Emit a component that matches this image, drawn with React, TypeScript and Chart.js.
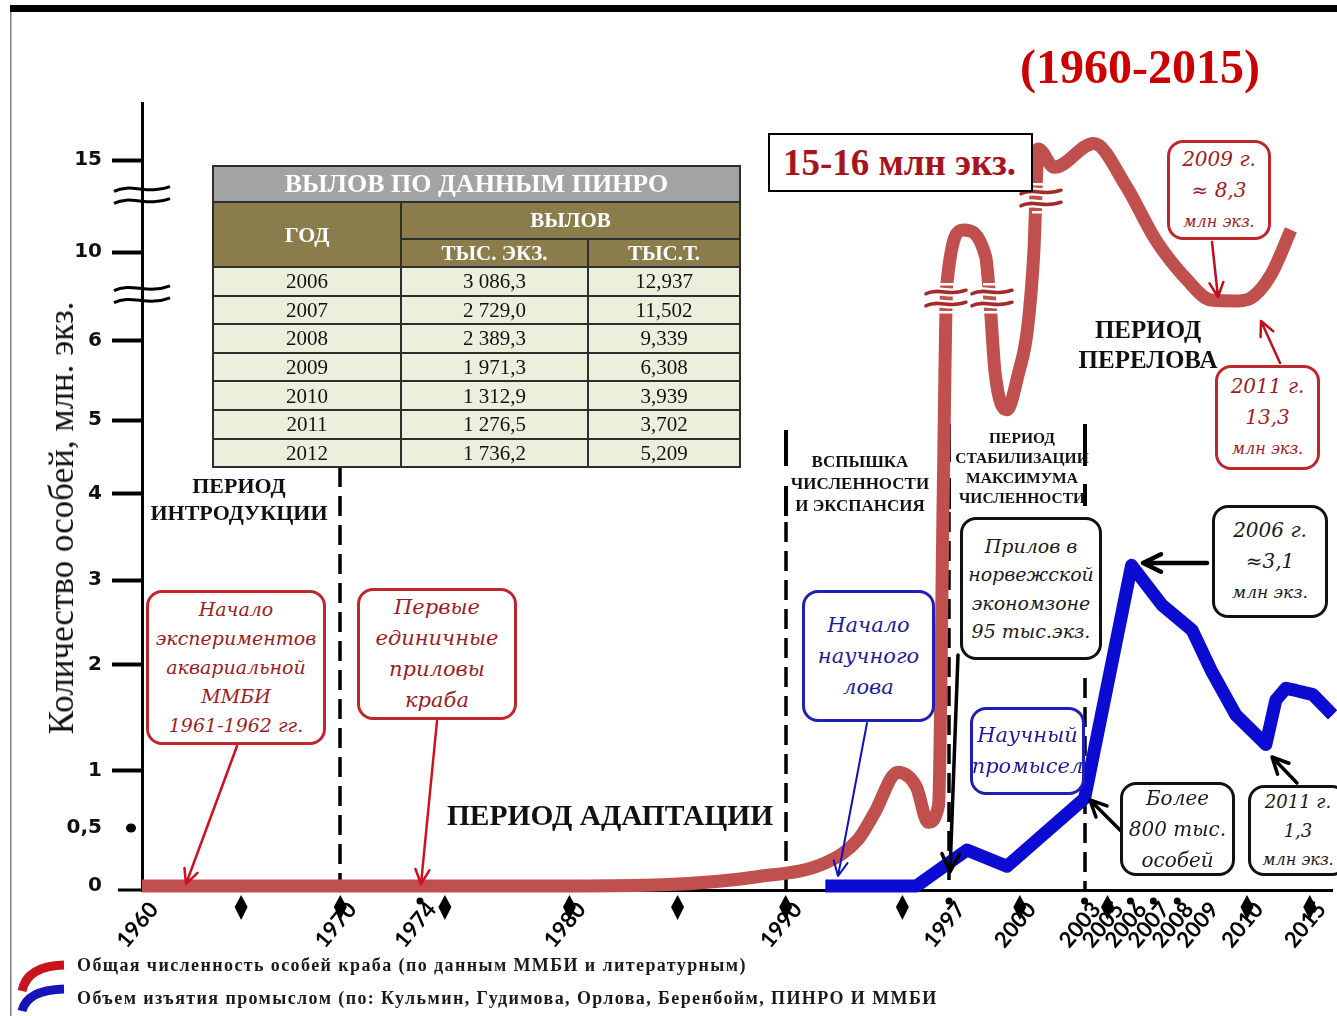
import React, { useEffect, useRef } from 'react';
import { Chart, LinearScale, registerables } from 'chart.js';

// ------------------------------------------------------------------ data
const seriesLabels = [
  'Общая численность особей краба (по данным ММБИ и литературным)',
  'Объем изъятия промыслом (по: Кульмин, Гудимова, Орлова, Беренбойм, ПИНРО И ММБИ',
];

// total number of crabs, million individuals
const redYears = [1960, 1970, 1980, 1984.3, 1988.7, 1991.7, 1993.1, 1993.8, 1994.8, 1995.6, 1996.1, 1996.55, 1996.75, 1996.9, 1997.6, 1998.55, 1998.75, 1998.95, 1999.45, 1999.95, 2000.35, 2000.65, 2000.85, 2001.6, 2003.8, 2005.8, 2007.1, 2008.4, 2009.2, 2009.75, 2010.3, 2011.9, 2013.5];
const redValues = [0, 0, 0, 0.01, 0.08, 0.2, 0.4, 0.63, 0.99, 0.86, 0.55, 0.7, 4.0, 8.5, 11.2, 9.8, 7.5, 5.6, 5.13, 5.6, 6.5, 10.0, 15.6, 14.6, 15.9, 13.6, 10.65, 8.74, 7.84, 7.8, 7.93, 8.97, 11.2];

// removal by fishery, million individuals (blue curve)
const blueYears = [1991.7, 1995.6, 1997.76, 1999.45, 2003.0, 2006.05, 2007.35, 2008.6, 2009.2, 2009.75, 2011.5, 2012.3, 2013.1, 2013.9, 2015.2, 2016.5];
const blueValues = [0, 0, 0.31, 0.17, 0.76, 3.17, 2.71, 2.41, 1.95, 1.53, 1.25, 1.67, 1.78, 1.76, 1.72, 1.53];

const xTickYears = [1960, 1970, 1974, 1980, 1990, 1997, 2000, 2003, 2005, 2006, 2007, 2008, 2009, 2010, 2015];
const yTickValues = [0, 0.5, 1, 2, 3, 4, 5, 6, 10, 15];
const diamondYears = [1965, 1970, 1975, 1980, 1985, 1990, 1995, 2000, 2005, 2010, 2015];
const dotYears = [1974, 1997, 2003, 2006, 2007, 2008];
const periodBoundaryYears = [1970, 1990, 1997, 2003];
const yBreakValues = [13.1, 8.1];

// table "ВЫЛОВ ПО ДАННЫМ ПИНРО"
const tableYears = ['2006', '2007', '2008', '2009', '2010', '2011', '2012'];
const tableThousandInd = ['3 086,3', '2 729,0', '2 389,3', '1 971,3', '1 312,9', '1 276,5', '1 736,2'];
const tableThousandTons = ['12,937', '11,502', '9,339', '6,308', '3,939', '3,702', '5,209'];

// ------------------------------------------------------------------ hand-drawn (non-uniform) axes
const AXIS_KNOTS: Record<string, { values: number[]; fracs: number[] }> = {
  x: {
    values: [...xTickYears, 2016.5],
    fracs: [0, 0.16653, 0.23347, 0.359, 0.54059, 0.67782, 0.73724, 0.79163, 0.81088, 0.83013, 0.84937, 0.86946, 0.89038, 0.92803, 0.98075, 1],
  },
  y: {
    values: [...yTickValues, 18],
    fracs: [0.00508, 0.07878, 0.15121, 0.2859, 0.3939, 0.50318, 0.5972, 0.69759, 0.81067, 0.92757, 0.99746],
  },
};

function interp(xs: number[], ys: number[], v: number) {
  const n = xs.length;
  let i = 0;
  if (v >= xs[n - 1]) i = n - 2;
  else if (v > xs[0]) {
    while (i < n - 2 && v > xs[i + 1]) i++;
  }
  const t = (v - xs[i]) / (xs[i + 1] - xs[i]);
  return ys[i] + t * (ys[i + 1] - ys[i]);
}

class PiecewiseScale extends LinearScale {
  static id = 'piecewise';
  static defaults = {};
  getPixelForValue(value: number) {
    const k = AXIS_KNOTS[(this as any).id];
    if (value === null || value === undefined || isNaN(value)) return NaN;
    return this.getPixelForDecimal(interp(k.values, k.fracs, value));
  }
  getValueForPixel(pixel: number) {
    const k = AXIS_KNOTS[(this as any).id];
    return interp(k.fracs, k.values, this.getDecimalForPixel(pixel));
  }
}

Chart.register(...registerables, PiecewiseScale as any);

// ------------------------------------------------------------------ styles
const RED = '#c0504d';
const BLUE = '#0b0bd2';
const SERIF = '"Liberation Serif", "Times New Roman", serif';
const NOTE_FONT = '"DejaVu Serif", serif';

const periodLineLayout = [
  { solid: [] as number[][], dashFrom: 467 },
  { solid: [[430, 466], [486, 516]], dashFrom: 522 },
  { solid: [[424, 462], [478, 509]], dashFrom: 512 },
  { solid: [[424, 466], [484, 506]], dashFrom: 678 },
];

function arrow(ctx: CanvasRenderingContext2D, x1: number, y1: number, x2: number, y2: number, color: string, w: number, head: number) {
  const a = Math.atan2(y2 - y1, x2 - x1);
  ctx.save();
  ctx.strokeStyle = color;
  ctx.lineWidth = w;
  ctx.lineCap = 'round';
  ctx.lineJoin = 'round';
  ctx.beginPath();
  ctx.moveTo(x1, y1);
  ctx.lineTo(x2, y2);
  ctx.moveTo(x2 - head * Math.cos(a - 0.45), y2 - head * Math.sin(a - 0.45));
  ctx.lineTo(x2, y2);
  ctx.lineTo(x2 - head * Math.cos(a + 0.45), y2 - head * Math.sin(a + 0.45));
  ctx.stroke();
  ctx.restore();
}

function wave(ctx: CanvasRenderingContext2D, x1: number, x2: number, y: number, amp: number) {
  const d = x2 - x1;
  ctx.beginPath();
  ctx.moveTo(x1, y + amp * 0.6);
  ctx.bezierCurveTo(x1 + d * 0.3, y - amp * 1.6, x1 + d * 0.6, y + amp * 1.6, x2, y - amp * 0.6);
  ctx.stroke();
}

const decorPlugin = {
  id: 'decor',
  beforeDraw(chart: any) {
    const { ctx } = chart;
    ctx.save();
    ctx.fillStyle = '#fff';
    ctx.fillRect(0, 0, chart.width, chart.height);
    ctx.restore();
  },
  beforeDatasetsDraw(chart: any) {
    const { ctx } = chart;
    const xs = chart.scales.x;
    ctx.save();
    ctx.strokeStyle = '#000';
    periodBoundaryYears.forEach((yr, i) => {
      const x = Math.round(xs.getPixelForValue(yr));
      const lay = periodLineLayout[i];
      ctx.lineWidth = 4;
      ctx.setLineDash([]);
      lay.solid.forEach(([a, b]) => {
        ctx.beginPath();
        ctx.moveTo(x, a);
        ctx.lineTo(x, b);
        ctx.stroke();
      });
      ctx.lineWidth = 3.5;
      ctx.setLineDash([20, 9]);
      ctx.beginPath();
      ctx.moveTo(x, lay.dashFrom);
      ctx.lineTo(x, 889);
      ctx.stroke();
    });
    ctx.restore();
  },
  afterDatasetsDraw(chart: any) {
    const { ctx } = chart;
    const xs = chart.scales.x;
    const ys = chart.scales.y;
    ctx.save();

    // frame
    ctx.fillStyle = '#000';
    ctx.fillRect(10, 5, 1327, 7);
    ctx.fillStyle = '#808080';
    ctx.fillRect(10, 12, 1.5, 1004);

    // axis extension to the left
    ctx.fillStyle = '#000';
    ctx.fillRect(118, 888.5, 24, 3);

    // diamonds and dots under the x axis
    diamondYears.forEach((yr) => {
      const x = xs.getPixelForValue(yr);
      ctx.beginPath();
      ctx.moveTo(x, 895);
      ctx.lineTo(x + 6.5, 907);
      ctx.lineTo(x, 920);
      ctx.lineTo(x - 6.5, 907);
      ctx.closePath();
      ctx.fill();
    });
    dotYears.forEach((yr) => {
      ctx.beginPath();
      ctx.arc(xs.getPixelForValue(yr), 901, 3.5, 0, Math.PI * 2);
      ctx.fill();
    });

    // 0,5 tick is a dot
    ctx.beginPath();
    ctx.ellipse(131, ys.getPixelForValue(0.5), 5, 4.5, 0, 0, Math.PI * 2);
    ctx.fill();

    // y-axis break marks
    ctx.strokeStyle = '#000';
    ctx.lineWidth = 3;
    yBreakValues.forEach((v) => {
      const y = ys.getPixelForValue(v);
      wave(ctx, 114, 170, y - 6, 4);
      wave(ctx, 114, 170, y + 6, 4);
    });

    // break marks on the red curve
    const breaks = [
      [946, 298],
      [992, 298],
      [1041, 198],
    ];
    breaks.forEach(([x, y]) => {
      ctx.fillStyle = '#fff';
      ctx.fillRect(x - 9, y - 15, 18, 2.5);
      ctx.fillRect(x - 9, y + 13, 18, 2.5);
      ctx.lineCap = 'round';
      ctx.strokeStyle = '#fff';
      ctx.lineWidth = 8;
      wave(ctx, x - 20, x + 20, y - 6, 3);
      wave(ctx, x - 20, x + 20, y + 6, 3);
      ctx.strokeStyle = '#a32b2b';
      ctx.lineWidth = 3.5;
      wave(ctx, x - 20, x + 20, y - 6, 3);
      wave(ctx, x - 20, x + 20, y + 6, 3);
    });

    // annotation arrows
    arrow(ctx, 237, 746, 186, 884, '#d01020', 2.5, 16);
    arrow(ctx, 437, 721, 421, 884, '#d01020', 2.5, 16);
    arrow(ctx, 867, 723, 838, 876, '#1010c0', 2, 16);
    arrow(ctx, 958, 655, 950, 872, '#000', 3.5, 20);
    arrow(ctx, 1207, 563, 1143, 563, '#000', 4.5, 20);
    arrow(ctx, 1122, 832, 1090, 800, '#000', 3.5, 18);
    arrow(ctx, 1297, 783, 1272, 757, '#000', 3.5, 18);
    arrow(ctx, 1212, 242, 1218, 297, '#c01020', 2.5, 16);
    arrow(ctx, 1280, 363, 1261, 321, '#c01020', 2.5, 16);

    // legend swooshes
    ctx.lineCap = 'butt';
    ctx.lineWidth = 9;
    ctx.strokeStyle = '#c8141c';
    ctx.beginPath();
    ctx.moveTo(22, 991);
    ctx.quadraticCurveTo(27, 966, 64, 965);
    ctx.stroke();
    ctx.strokeStyle = '#1414b8';
    ctx.beginPath();
    ctx.moveTo(22, 1011);
    ctx.quadraticCurveTo(27, 990, 64, 989);
    ctx.stroke();

    ctx.restore();
  },
};

// ------------------------------------------------------------------ annotation boxes
type Note = { l: number; t: number; w: number; h: number; theme: 'red' | 'blue' | 'black'; fs: number; lh: number; lines: (string | [string, number])[] };
const THEMES = {
  red: { border: '#c0272d', text: '#9b1c24' },
  blue: { border: '#1f1fb5', text: '#1c1c9a' },
  black: { border: '#111', text: '#1a1a1a' },
};
const notes: Note[] = [
  { l: 146, t: 590, w: 180, h: 155, theme: 'red', fs: 19, lh: 29, lines: ['Начало', 'экспериментов', 'аквариальной', 'ММБИ', '1961-1962 гг.'] },
  { l: 357, t: 588, w: 160, h: 132, theme: 'red', fs: 21, lh: 31, lines: ['Первые', 'единичные', 'приловы', 'краба'] },
  { l: 1167, t: 140, w: 104, h: 100, theme: 'red', fs: 20, lh: 31, lines: ['2009 г.', '≈ 8,3', ['млн экз.', 16]] },
  { l: 1215, t: 365, w: 105, h: 105, theme: 'red', fs: 20, lh: 31, lines: ['2011 г.', '13,3', ['млн экз.', 16]] },
  { l: 802, t: 590, w: 133, h: 132, theme: 'blue', fs: 21, lh: 31, lines: ['Начало', 'научного', 'лова'] },
  { l: 970, t: 707, w: 115, h: 88, theme: 'blue', fs: 21, lh: 31, lines: ['Научный', 'промысел'] },
  { l: 960, t: 517, w: 142, h: 143, theme: 'black', fs: 19, lh: 28.5, lines: ['Прилов в', 'норвежской', 'экономзоне', '95 тыс.экз.'] },
  { l: 1212, t: 505, w: 116, h: 113, theme: 'black', fs: 20, lh: 31, lines: ['2006 г.', '≈3,1', ['млн экз.', 17]] },
  { l: 1120, t: 782, w: 115, h: 94, theme: 'black', fs: 20, lh: 31, lines: ['Более', '800 тыс.', 'особей'] },
  { l: 1248, t: 785, w: 100, h: 91, theme: 'black', fs: 18, lh: 29, lines: ['2011 г.', '1,3', ['млн экз.', 16]] },
];

type Label = { cx: number; y: number; fs: number; lh: number; lines: string[] };
const periodLabels: Label[] = [
  { cx: 239, y: 485, fs: 22, lh: 27, lines: ['ПЕРИОД', 'ИНТРОДУКЦИИ'] },
  { cx: 610, y: 815, fs: 29.5, lh: 34, lines: ['ПЕРИОД АДАПТАЦИИ'] },
  { cx: 860, y: 462, fs: 17, lh: 22, lines: ['ВСПЫШКА', 'ЧИСЛЕННОСТИ', 'И ЭКСПАНСИЯ'] },
  { cx: 1022, y: 438, fs: 15.5, lh: 20, lines: ['ПЕРИОД', 'СТАБИЛИЗАЦИИ', 'МАКСИМУМА', 'ЧИСЛЕННОСТИ'] },
  { cx: 1148, y: 330, fs: 25, lh: 30, lines: ['ПЕРИОД', 'ПЕРЕЛОВА'] },
];

function NoteBox({ n }: { n: Note }) {
  const th = THEMES[n.theme];
  return (
    <div
      style={{
        position: 'absolute', left: n.l, top: n.t, width: n.w, height: n.h, boxSizing: 'border-box',
        border: `3px solid ${th.border}`, borderRadius: 16, background: '#fff',
        display: 'flex', flexDirection: 'column', justifyContent: 'center', alignItems: 'center',
        fontFamily: NOTE_FONT, fontStyle: 'italic', color: th.text, whiteSpace: 'nowrap', textAlign: 'center',
        fontWeight: 300,
      }}
    >
      {n.lines.map((ln, i) => {
        const txt = Array.isArray(ln) ? ln[0] : ln;
        const fs = Array.isArray(ln) ? ln[1] : n.fs;
        return (
          <div key={i} style={{ fontSize: fs, lineHeight: `${n.lh}px` }}>{txt}</div>
        );
      })}
    </div>
  );
}

function PeriodLabel({ p }: { p: Label }) {
  return (
    <div
      style={{
        position: 'absolute', left: p.cx - 200, width: 400, top: p.y - p.lh / 2, textAlign: 'center',
        fontFamily: SERIF, fontWeight: 'bold', fontSize: p.fs, lineHeight: `${p.lh}px`, color: '#111', whiteSpace: 'nowrap',
      }}
    >
      {p.lines.map((l, i) => <div key={i}>{l}</div>)}
    </div>
  );
}

function CatchTable() {
  const bd = '2px solid #2e2e2e';
  const head: React.CSSProperties = { color: '#fff', fontFamily: SERIF, fontWeight: 'bold', textAlign: 'center', border: bd, padding: 0, whiteSpace: 'nowrap' };
  const cell: React.CSSProperties = { fontFamily: SERIF, fontSize: 21, lineHeight: '24px', color: '#111', textAlign: 'center', border: bd, padding: 0, height: 26.6, background: '#eaf0dc' };
  return (
    <table
      style={{ position: 'absolute', left: 212, top: 165, width: 527, borderCollapse: 'collapse', tableLayout: 'fixed' }}
    >
      <colgroup>
        <col style={{ width: 188 }} />
        <col style={{ width: 187 }} />
        <col style={{ width: 152 }} />
      </colgroup>
      <tbody>
        <tr style={{ height: 36 }}>
          <td colSpan={3} style={{ ...head, background: '#a3a3a3', fontSize: 26, lineHeight: '30px' }}>ВЫЛОВ ПО ДАННЫМ ПИНРО</td>
        </tr>
        <tr style={{ height: 37 }}>
          <td rowSpan={2} style={{ ...head, background: '#8b7c4b', fontSize: 22 }}>ГОД</td>
          <td colSpan={2} style={{ ...head, background: '#8b7c4b', fontSize: 21 }}>ВЫЛОВ</td>
        </tr>
        <tr style={{ height: 28 }}>
          <td style={{ ...head, background: '#8b7c4b', fontSize: 21, lineHeight: '24px' }}>ТЫС. ЭКЗ.</td>
          <td style={{ ...head, background: '#8b7c4b', fontSize: 21, lineHeight: '24px' }}>ТЫС.Т.</td>
        </tr>
        {tableYears.map((yr, i) => (
          <tr key={yr}>
            <td style={cell}>{yr}</td>
            <td style={cell}>{tableThousandInd[i]}</td>
            <td style={cell}>{tableThousandTons[i]}</td>
          </tr>
        ))}
      </tbody>
    </table>
  );
}

export default function App() {
  const canvasRef = useRef<HTMLCanvasElement | null>(null);

  useEffect(() => {
    const canvas = canvasRef.current;
    if (!canvas) return;
    const chart = new Chart(canvas, {
      type: 'line',
      data: {
        datasets: [
          {
            label: seriesLabels[0],
            data: redYears.map((x, i) => ({ x, y: redValues[i] })),
            borderColor: RED,
            borderWidth: 13,
            cubicInterpolationMode: 'monotone',
            pointRadius: 0,
            fill: false,
            order: 2,
            clip: false as any,
            borderJoinStyle: 'round',
            borderCapStyle: 'butt',
          },
          {
            label: seriesLabels[1],
            data: blueYears.map((x, i) => ({ x, y: blueValues[i] })),
            borderColor: BLUE,
            borderWidth: 13,
            tension: 0,
            pointRadius: 0,
            fill: false,
            order: 1,
            clip: false as any,
            borderJoinStyle: 'round',
            borderCapStyle: 'butt',
          },
        ],
      },
      options: {
        responsive: false,
        animation: false,
        devicePixelRatio: 1,
        layout: { padding: { left: 0, right: 0, top: 103, bottom: 0 } },
        plugins: { legend: { display: false }, tooltip: { enabled: false } },
        scales: {
          x: {
            type: 'piecewise' as any,
            position: 'bottom',
            min: 1960,
            max: 2016.5,
            afterBuildTicks: (s: any) => { s.ticks = xTickYears.map((v) => ({ value: v })); },
            afterFit: (s: any) => { s.height = 126; },
            grid: { display: true, drawOnChartArea: false, drawTicks: false },
            border: { display: true, color: '#000', width: 3 },
            ticks: {
              autoSkip: false, minRotation: 50, maxRotation: 50, padding: 7, labelOffset: 12,
              color: '#000', font: { family: 'Lato', size: 22, weight: 'bold' },
              callback: (v: any) => String(v),
            },
          },
          y: {
            type: 'piecewise' as any,
            position: 'left',
            min: -0.04,
            max: 18,
            afterBuildTicks: (s: any) => { s.ticks = yTickValues.map((v) => ({ value: v })); },
            afterFit: (s: any) => { s.width = 142; },
            grid: {
              drawOnChartArea: false, drawTicks: true, tickLength: 30, tickWidth: 4,
              tickColor: (c: any) => (c.tick && c.tick.value < 1 ? 'rgba(0,0,0,0)' : '#000'),
            },
            border: { display: true, color: '#000', width: 3 },
            ticks: {
              autoSkip: false, padding: 10, color: '#111',
              font: { family: '"DejaVu Sans"', size: 20, weight: 'bold' },
              callback: (v: any) => String(v).replace('.', ','),
            },
          },
        },
      } as any,
      plugins: [decorPlugin],
    });
    return () => chart.destroy();
  }, []);

  return (
    <div style={{ position: 'absolute', left: 0, top: 0, width: 1337, height: 1016, overflow: 'hidden', background: '#fff' }}>
      <canvas ref={canvasRef} width={1337} height={1016} style={{ position: 'absolute', left: 0, top: 0, display: 'block' }} />

      <div style={{ position: 'absolute', left: 1020, top: 38, fontFamily: SERIF, fontWeight: 'bold', fontSize: 48, lineHeight: '58px', color: '#cc0000', whiteSpace: 'nowrap' }}>
        (1960-2015)
      </div>

      <div
        style={{
          position: 'absolute', left: 62, top: 518, transform: 'translate(-50%, -50%) rotate(-90deg)',
          fontFamily: SERIF, fontSize: 35, color: '#111', whiteSpace: 'nowrap', lineHeight: '38px',
        }}
      >
        Количество особей, млн. экз.
      </div>

      <div
        style={{
          position: 'absolute', left: 768, top: 133, width: 265, height: 59, boxSizing: 'border-box', border: '2px solid #000',
          background: '#fff', fontFamily: SERIF, fontWeight: 'bold', fontSize: 37, color: '#a8141e', lineHeight: '55px',
          paddingLeft: 13, whiteSpace: 'nowrap',
        }}
      >
        15-16 млн экз.
      </div>

      <CatchTable />

      {periodLabels.map((p, i) => <PeriodLabel key={i} p={p} />)}
      {notes.map((n, i) => <NoteBox key={i} n={n} />)}

      {seriesLabels.map((s, i) => (
        <div
          key={i}
          style={{
            position: 'absolute', left: 77, top: 965 + i * 33 - 12, fontFamily: SERIF, fontWeight: 'bold', fontSize: 18,
            letterSpacing: 1.4, lineHeight: '24px', color: '#1a1a1a', whiteSpace: 'nowrap',
          }}
        >
          {s}
        </div>
      ))}
    </div>
  );
}
